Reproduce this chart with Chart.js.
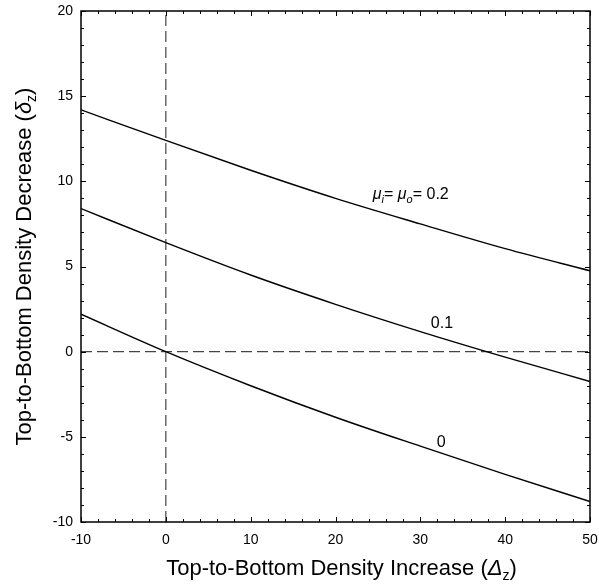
<!DOCTYPE html>
<html>
<head>
<meta charset="utf-8">
<script src="https://cdn.jsdelivr.net/npm/chart.js@4.4.0/dist/chart.umd.min.js"></script>
<style>
  html, body { margin: 0; padding: 0; background: #fff; }
  #wrap { width: 599px; height: 587px; }
</style>
</head>
<body>
<div id="wrap"><canvas id="chart"></canvas></div>
<script>
// --- data ---
const xValues = [-10, 0, 10, 20, 30, 40, 50];
const curveMu0 = [2.2, 0, -2.0, -3.85, -5.55, -7.2, -8.8];
const curveMu01 = [8.4, 6.4, 4.5, 2.78, 1.18, -0.32, -1.75];
const curveMu02 = [14.2, 12.4, 10.65, 9.0, 7.5, 6.05, 4.75];
const xRange = [-10, 50];
const yRange = [-10, 20];
const xStep = 10, xMinorStep = 2;
const yStep = 5, yMinorStep = 1;

const FONT = "'Liberation Sans', Arial, sans-serif";

function toPoints(ys) {
  return xValues.map((x, i) => ({ x: x, y: ys[i] }));
}

// draw a run of text pieces (for italics / subscripts)
function runsWidth(ctx, runs) {
  let w = 0;
  runs.forEach(r => { ctx.font = r.font; w += ctx.measureText(r.text).width; });
  return w;
}
function drawRuns(ctx, runs, x, y, align) {
  let cx = align === 'center' ? x - runsWidth(ctx, runs) / 2 : x;
  ctx.textBaseline = 'alphabetic';
  ctx.textAlign = 'left';
  runs.forEach(r => {
    ctx.font = r.font;
    ctx.fillText(r.text, cx, y + (r.dy || 0));
    cx += ctx.measureText(r.text).width;
  });
}

const frameAndText = {
  id: 'frameAndText',
  afterDraw(chart) {
    const ctx = chart.ctx;
    const a = chart.chartArea;
    const xs = chart.scales.x, ys = chart.scales.y;
    ctx.save();
    ctx.strokeStyle = '#000';
    ctx.fillStyle = '#000';

    // frame
    ctx.lineWidth = 1.5;
    ctx.strokeRect(a.left, a.top, a.right - a.left, a.bottom - a.top);

    // inward ticks on all four sides
    ctx.lineWidth = 1;
    ctx.beginPath();
    for (let v = xRange[0]; v <= xRange[1]; v += xMinorStep) {
      const px = Math.round(xs.getPixelForValue(v)) + 0.5;
      const len = v % xStep === 0 ? 5 : 3;
      ctx.moveTo(px, a.bottom); ctx.lineTo(px, a.bottom - len);
      ctx.moveTo(px, a.top); ctx.lineTo(px, a.top + len);
    }
    for (let v = yRange[0]; v <= yRange[1]; v += yMinorStep) {
      const py = Math.round(ys.getPixelForValue(v)) + 0.5;
      const len = v % yStep === 0 ? 5 : 3;
      ctx.moveTo(a.left, py); ctx.lineTo(a.left + len, py);
      ctx.moveTo(a.right, py); ctx.lineTo(a.right - len, py);
    }
    ctx.stroke();

    // curve labels
    const big = '16px ' + FONT, it = 'italic 16px ' + FONT, sub = 'italic 11px ' + FONT;
    drawRuns(ctx, [
      { text: 'μ', font: it }, { text: 'i', font: sub, dy: 4 },
      { text: '= ', font: big },
      { text: 'μ', font: it }, { text: 'o', font: sub, dy: 4 },
      { text: '= 0.2', font: big }
    ], xs.getPixelForValue(24.4), ys.getPixelForValue(9.3) + 6, 'left');
    drawRuns(ctx, [{ text: '0.1', font: big }], xs.getPixelForValue(32.55), ys.getPixelForValue(1.76) + 6, 'center');
    drawRuns(ctx, [{ text: '0', font: big }], xs.getPixelForValue(32.45), ys.getPixelForValue(-5.24) + 6, 'center');

    // axis titles
    const tf = '22px ' + FONT, ti = 'italic 22px ' + FONT, ts = '14px ' + FONT;
    const cx = (a.left + a.right) / 2 + 6;
    drawRuns(ctx, [
      { text: 'Top-to-Bottom Density Increase (', font: tf },
      { text: 'Δ', font: ti }, { text: 'z', font: ts, dy: 5 },
      { text: ')', font: tf }
    ], cx, 575, 'center');

    ctx.translate(31, (a.top + a.bottom) / 2);
    ctx.rotate(-Math.PI / 2);
    drawRuns(ctx, [
      { text: 'Top-to-Bottom Density Decrease (', font: tf },
      { text: 'δ', font: ti }, { text: 'z', font: ts, dy: 5 },
      { text: ')', font: tf }
    ], 0, 0, 'center');
    ctx.restore();
  }
};

const curveStyle = {
  showLine: true, pointRadius: 0, borderColor: '#000', borderWidth: 1.4,
  cubicInterpolationMode: 'monotone', fill: false
};
const dashStyle = {
  showLine: true, pointRadius: 0, borderColor: '#444', borderWidth: 1.2,
  borderDash: [11, 5], fill: false
};

new Chart(document.getElementById('chart'), {
  type: 'scatter',
  data: {
    datasets: [
      Object.assign({ label: 'mu=0', data: toPoints(curveMu0) }, curveStyle),
      Object.assign({ label: 'mu=0.1', data: toPoints(curveMu01) }, curveStyle),
      Object.assign({ label: 'mu=0.2', data: toPoints(curveMu02) }, curveStyle),
      Object.assign({ label: 'x=0', data: [{ x: 0, y: yRange[0] }, { x: 0, y: yRange[1] }] }, dashStyle),
      Object.assign({ label: 'y=0', data: [{ x: xRange[0], y: 0 }, { x: xRange[1], y: 0 }] }, dashStyle)
    ]
  },
  plugins: [frameAndText],
  options: {
    responsive: true,
    maintainAspectRatio: false,
    animation: false,
    layout: { padding: { top: 11, right: 9, left: 0, bottom: 0 } },
    plugins: { legend: { display: false }, tooltip: { enabled: false } },
    scales: {
      x: {
        type: 'linear', min: xRange[0], max: xRange[1],
        grid: { display: false, drawTicks: false, tickLength: 0 }, border: { display: false },
        ticks: { stepSize: xStep, color: '#000', padding: 10, font: { family: FONT, size: 14 } },
        afterFit(s) { s.height = 65; s.paddingLeft = 0; s.paddingRight = 0; }
      },
      y: {
        type: 'linear', min: yRange[0], max: yRange[1],
        grid: { display: false, drawTicks: false, tickLength: 0 }, border: { display: false },
        ticks: { stepSize: yStep, color: '#000', padding: 8, font: { family: FONT, size: 14 } },
        afterFit(s) { s.width = 81; s.paddingTop = 0; s.paddingBottom = 0; }
      }
    }
  }
});
</script>
</body>
</html>
